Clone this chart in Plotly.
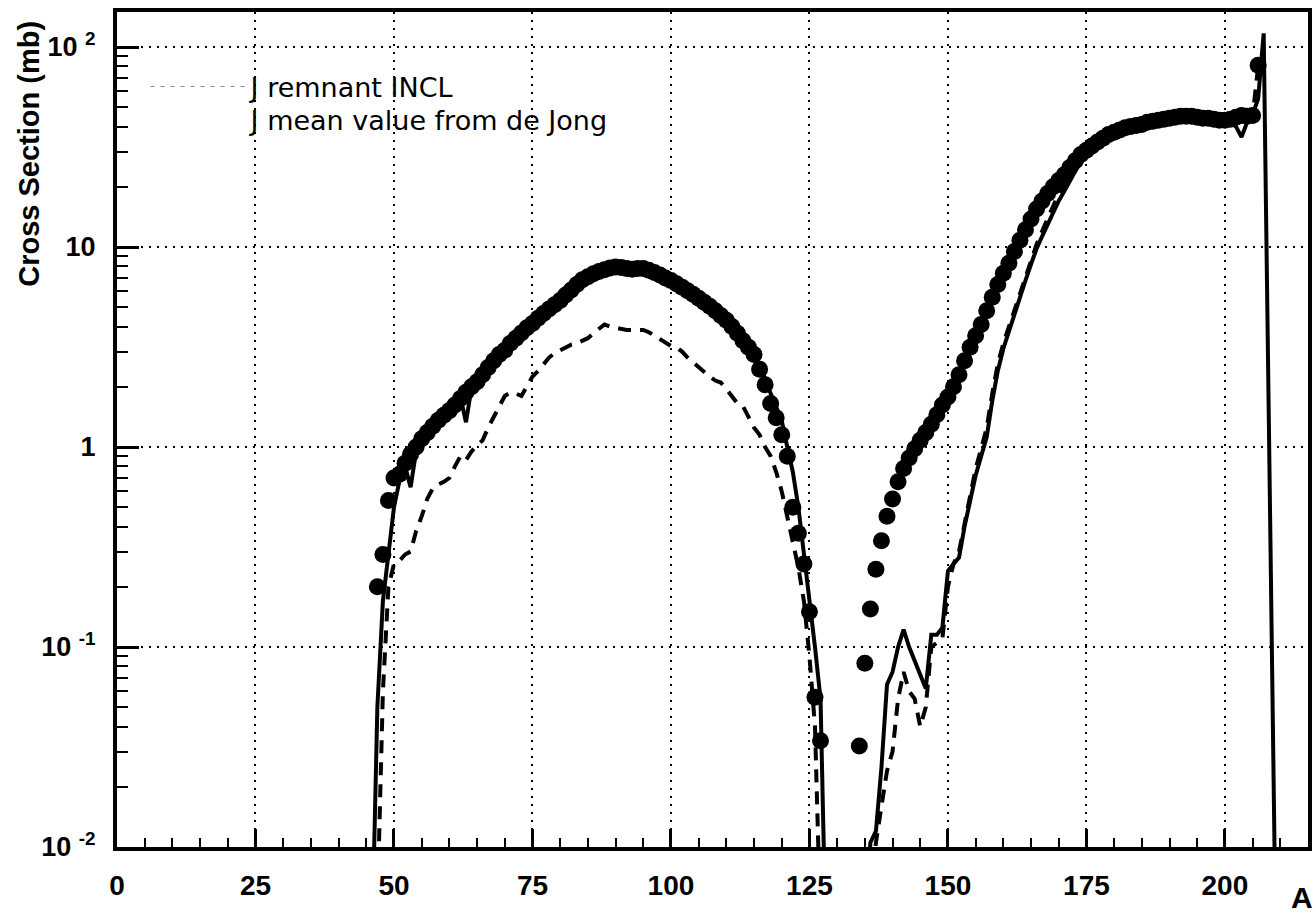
import plotly.graph_objects as go

# ---------------- data ----------------
# experimental points (filled circles)
dots_A = list(range(47, 128)) + list(range(134, 207))
dots_sigma = [
    0.20, 0.29, 0.54, 0.70, 0.73, 0.83, 0.92, 1.00, 1.10, 1.18,   # 47-56
    1.27, 1.36, 1.44, 1.52, 1.62, 1.75, 1.88, 2.00, 2.12, 2.30,   # 57-66
    2.50, 2.70, 2.90, 3.05, 3.30, 3.50, 3.72, 3.95, 4.15, 4.40,   # 67-76
    4.65, 4.90, 5.15, 5.40, 5.75, 6.10, 6.50, 6.85, 7.10, 7.35,   # 77-86
    7.55, 7.70, 7.85, 7.95, 7.90, 7.80, 7.75, 7.80, 7.80, 7.65,   # 87-96
    7.45, 7.25, 7.00, 6.80, 6.55, 6.30, 6.05, 5.80, 5.55, 5.30,   # 97-106
    5.05, 4.80, 4.55, 4.30, 4.00, 3.70, 3.40, 3.15, 2.90, 2.45,   # 107-116
    2.05, 1.65, 1.40, 1.15, 0.90, 0.50, 0.37, 0.26, 0.15, 0.056,  # 117-126
    0.034,                                                        # 127
    0.032, 0.083, 0.155, 0.245, 0.34, 0.45, 0.55, 0.67, 0.78,     # 134-142
    0.88, 0.98, 1.08, 1.18, 1.30, 1.45, 1.62, 1.78, 2.00, 2.30,   # 143-152
    2.70, 3.15, 3.60, 4.10, 4.80, 5.60, 6.50, 7.40, 8.30, 9.50,   # 153-162
    10.8, 12.2, 13.8, 15.5, 17.0, 18.5, 20.0, 21.5, 23.0, 25.0,   # 163-172
    27.0, 29.0, 30.5, 32.0, 33.5, 35.0, 36.5, 37.5, 38.5, 39.5,   # 173-182
    40.0, 40.5, 41.0, 42.0, 42.5, 43.0, 43.5, 44.0, 44.5, 45.0,   # 183-192
    45.0, 45.0, 44.5, 44.0, 44.0, 43.5, 43.0, 43.0, 43.5, 44.5,   # 193-202
    45.5, 45.0, 45.5, 81.0,                                       # 203-206
]

# J mean value from de Jong (solid line)
solid_A = list(range(46, 129)) + list(range(135, 208)) + [209]
solid_sigma = [
    0.003, 0.05, 0.17, 0.30, 0.50, 0.68, 0.80, 0.63, 0.95, 1.05,  # 46-55
    1.15, 1.25, 1.35, 1.45, 1.55, 1.65, 1.78, 1.33, 1.98, 2.10,   # 56-65
    2.30, 2.45, 2.65, 2.85, 3.05, 3.25, 3.45, 3.70, 3.90, 4.10,   # 66-75
    4.35, 4.60, 4.85, 5.10, 5.40, 5.70, 6.00, 6.40, 6.80, 7.05,   # 76-85
    7.30, 7.50, 7.65, 7.80, 7.85, 7.80, 7.70, 7.70, 7.70, 7.65,   # 86-95
    7.50, 7.35, 7.15, 6.95, 6.70, 6.45, 6.20, 5.95, 5.70, 5.45,   # 96-105
    5.20, 4.95, 4.70, 4.45, 4.20, 3.90, 3.60, 3.35, 3.10, 2.85,   # 106-115
    2.50, 2.20, 1.85, 1.60, 1.35, 1.00, 0.75, 0.50, 0.30, 0.18,   # 116-125
    0.10, 0.055, 0.003,                                           # 126-128
    0.004, 0.0105, 0.012, 0.025, 0.065, 0.075, 0.10, 0.122,       # 135-142
    0.10, 0.085, 0.072, 0.062, 0.115, 0.115, 0.125, 0.24, 0.26,   # 143-151
    0.28, 0.40, 0.55, 0.72, 0.90, 1.12, 1.70, 2.40, 3.10, 3.80,   # 152-161
    4.60, 5.60, 6.80, 8.20, 9.80, 11.3, 13.0, 15.0, 17.0, 19.0,   # 162-171
    21.5, 24.0, 26.5, 28.5, 30.5, 32.5, 34.5, 36.0, 37.5, 38.5,   # 172-181
    39.5, 40.0, 40.5, 41.0, 42.0, 42.5, 43.0, 43.5, 44.0, 44.5,   # 182-191
    45.0, 45.0, 44.5, 44.0, 43.5, 43.5, 43.0, 42.5, 42.5, 42.0,   # 192-201
    40.0, 35.5, 42.0, 46.0, 55.0, 117.0,                          # 202-207
    0.008,                                                        # 209
]

# J remnant INCL (dashed line)
dash_A = list(range(47, 128)) + list(range(136, 207))
dash_sigma = [
    0.005, 0.06, 0.20, 0.26, 0.27, 0.29, 0.30, 0.38, 0.45, 0.55,  # 47-56
    0.62, 0.65, 0.67, 0.70, 0.80, 0.90, 0.86, 0.95, 1.02, 1.08,   # 57-66
    1.25, 1.42, 1.60, 1.80, 1.87, 1.85, 1.80, 2.00, 2.25, 2.40,   # 67-76
    2.60, 2.80, 2.95, 3.05, 3.15, 3.25, 3.30, 3.40, 3.50, 3.70,   # 77-86
    3.90, 4.10, 4.00, 3.95, 3.90, 3.85, 3.85, 3.85, 3.85, 3.75,   # 87-96
    3.60, 3.45, 3.35, 3.20, 3.15, 3.00, 2.80, 2.65, 2.50, 2.35,   # 97-106
    2.25, 2.15, 2.10, 1.95, 1.80, 1.65, 1.60, 1.40, 1.25, 1.15,   # 107-116
    1.00, 0.90, 0.75, 0.60, 0.45, 0.34, 0.25, 0.17, 0.09, 0.04,   # 117-126
    0.004,                                                        # 127
    0.006, 0.0105, 0.016, 0.024, 0.030, 0.055, 0.075, 0.060,      # 136-143
    0.055, 0.040, 0.050, 0.10, 0.105, 0.11, 0.20, 0.26, 0.30,     # 144-152
    0.42, 0.58, 0.78, 0.98, 1.25, 1.85, 2.60, 3.30, 4.00, 4.90,   # 153-162
    5.90, 7.10, 8.60, 10.3, 12.0, 14.0, 16.0, 18.5, 20.5, 23.0,   # 163-172
    25.5, 28.0, 30.0, 32.0, 34.0, 35.5, 37.0, 38.0, 39.0, 40.0,   # 173-182
    41.0, 41.5, 42.0, 42.5, 43.0, 43.5, 44.0, 44.0, 44.5, 44.5,   # 183-192
    44.0, 44.0, 43.5, 43.0, 43.0, 42.5, 42.0, 41.5, 41.5, 42.0,   # 193-202
    41.0, 43.0, 45.0, 80.0,                                       # 203-206
]

x_tickvals = [0, 25, 50, 75, 100, 125, 150, 175, 200]
y_tickvals = [0.01, 0.1, 1, 10, 100]
y_ticktext = ["10 <sup>-2</sup>", "10 <sup>-1</sup>", "1", "10", "10 <sup>2</sup>"]
y_minor = [k * 10.0 ** n for n in range(-2, 2) for k in range(2, 10)]

legend_names = ["J remnant INCL", "J mean value from de Jong"]

# ---------------- figure ----------------
BOLD = "Liberation Sans Narrow, Liberation Sans, Arial, sans-serif"
LEG_FONT = dict(family="DejaVu Sans", size=27, color="black")

fig = go.Figure()

fig.add_trace(go.Scatter(
    x=dots_A, y=dots_sigma, mode="markers",
    marker=dict(symbol="circle", size=17, color="black"),
    showlegend=False, hoverinfo="skip",
))
fig.add_trace(go.Scatter(
    x=dash_A, y=dash_sigma, mode="lines",
    line=dict(color="black", width=4, dash="13px,9px"),
    showlegend=False,
))
fig.add_trace(go.Scatter(
    x=solid_A, y=solid_sigma, mode="lines",
    line=dict(color="black", width=4),
    showlegend=False,
))

# legend entries
fig.add_trace(go.Scatter(
    x=[None], y=[None], mode="lines", name=legend_names[0], legend="legend",
    line=dict(color="#888888", width=1, dash="4px,6px"),
))
fig.add_trace(go.Scatter(
    x=[None], y=[None], mode="lines", name=legend_names[1], legend="legend2",
    line=dict(color="rgba(0,0,0,0)", width=1),
))

fig.update_layout(
    width=1316, height=917,
    margin=dict(l=117, r=8, t=12, b=70, autoexpand=False),
    paper_bgcolor="white", plot_bgcolor="white",
    showlegend=True,
    legend=dict(
        x=0.024, y=0.9102, xanchor="left", yanchor="middle",
        bgcolor="rgba(0,0,0,0)", borderwidth=0,
        font=LEG_FONT, itemwidth=95,
    ),
    legend2=dict(
        x=0.024, y=0.8707, xanchor="left", yanchor="middle",
        bgcolor="rgba(0,0,0,0)", borderwidth=0,
        font=LEG_FONT, itemwidth=95,
    ),
    xaxis=dict(
        range=[0, 215], showline=True, linecolor="black", linewidth=4,
        mirror=True,
        tickvals=x_tickvals, ticks="inside", ticklen=18, tickwidth=2.5,
        tickcolor="black",
        tickfont=dict(family=BOLD, size=28, color="black", weight="bold"),
        ticklabelstandoff=10,
        showgrid=True, gridcolor="black", gridwidth=2, griddash="2px,6px",
        zeroline=False,
        minor=dict(dtick=5, tick0=0, ticks="inside", ticklen=9, tickwidth=2,
                   tickcolor="black", showgrid=False),
    ),
    yaxis=dict(
        type="log", range=[-2, 2.175], showline=True, linecolor="black",
        linewidth=4, mirror=True,
        tickvals=y_tickvals, ticktext=y_ticktext,
        ticks="inside", ticklen=22, tickwidth=2.5, tickcolor="black",
        tickfont=dict(family=BOLD, size=27, color="black", weight="bold"),
        ticklabelstandoff=12,
        showgrid=True, gridcolor="black", gridwidth=2, griddash="2px,6px",
        zeroline=False,
        minor=dict(tickvals=y_minor, ticks="inside", ticklen=11, tickwidth=2,
                   tickcolor="black", showgrid=False),
    ),
    annotations=[
        dict(text="<b>Cross Section (mb)</b>", xref="paper", yref="paper",
             x=-0.074, y=0.83, textangle=-90, showarrow=False,
             font=dict(family=BOLD, size=29, color="black"),
             xanchor="center", yanchor="middle"),
        dict(text="<b>A</b>", xref="paper", yref="paper",
             x=0.995, y=-0.06, showarrow=False,
             font=dict(family=BOLD, size=30, color="black"),
             xanchor="center", yanchor="middle"),
    ],
)

fig.write_html(
    "out.html",
    config={"displayModeBar": False},
    post_script="document.body.style.margin='0';document.body.style.overflow='hidden';",
)
